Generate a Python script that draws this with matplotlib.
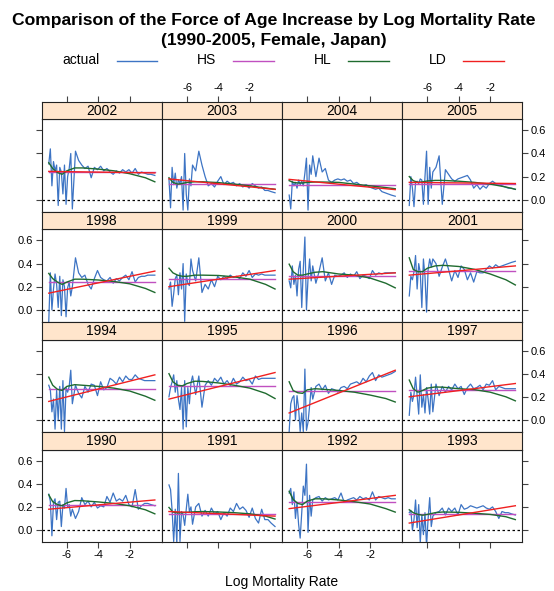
import matplotlib
matplotlib.use("Agg")
import matplotlib.pyplot as plt
from matplotlib.lines import Line2D

plt.rcParams['font.family'] = ['Liberation Sans', 'DejaVu Sans']

# ---- data -------------------------------------------------------------
# log mortality rate at each age (shared abscissa)
log_mx = [-7.15, -7.05, -6.95, -6.85, -6.75, -6.65, -6.55, -6.45,
          -6.35, -6.25, -6.15, -6.05, -5.95, -5.85, -5.75, -5.65,
          -5.45, -5.25, -5.05, -4.85, -4.65, -4.45, -4.25, -4.05, -3.85,
          -3.65, -3.45, -3.25, -3.05, -2.85, -2.65, -2.45, -2.25, -2.05,
          -1.85, -1.65, -1.45, -1.25, -1.05, -0.85, -0.65, -0.40]

# observed force of age increase
actual_1990 = [0.31, 0.25, -0.05, 0.24, 0.27, 0.09, 0.24, 0.25, 0.03, 0.22, 0.19, 0.36, 0.20, 0.22, 0.12, 0.18,
               0.10, 0.16, 0.28, 0.22, 0.25, 0.20, 0.24, 0.19, 0.21, 0.20, 0.29, 0.24, 0.32, 0.25, 0.27, 0.25, 0.30,
               0.22, 0.20, 0.35, 0.18, 0.21, 0.23, 0.23, 0.22, 0.21]
actual_1991 = [0.39, 0.35, 0.17, -0.10, 0.18, -0.12, 0.49, -0.10, 0.16, 0.13, 0.04, 0.18, 0.31, 0.16, 0.20, 0.05,
               0.20, 0.23, 0.12, 0.17, 0.12, 0.19, 0.14, 0.16, 0.09, 0.15, 0.12, 0.19, 0.16, 0.23, 0.18, 0.20, 0.17,
               0.11, 0.19, 0.10, 0.06, 0.18, 0.09, 0.09, 0.06, 0.03]
actual_1992 = [0.32, 0.36, 0.22, 0.33, 0.10, 0.24, 0.05, -0.07, 0.15, 0.38, 0.30, 0.57, -0.02, 0.30, 0.12, 0.26,
               0.28, 0.29, 0.25, 0.28, 0.26, 0.27, 0.28, 0.26, 0.32, 0.24, 0.26, 0.27, 0.28, 0.26, 0.29, 0.27, 0.28,
               0.26, 0.33, 0.26, 0.29, 0.28, 0.27, 0.28, 0.27, 0.27]
actual_1993 = [0.15, 0.17, 0.00, 0.09, 0.26, 0.02, 0.22, -0.11, 0.13, -0.04, 0.15, -0.14, 0.10, 0.28, 0.03, 0.12,
               0.15, 0.16, 0.19, 0.13, 0.19, 0.16, 0.19, 0.13, 0.22, 0.18, 0.19, 0.21, 0.20, 0.19, 0.20, 0.21, 0.19,
               0.18, 0.20, 0.16, 0.10, 0.16, 0.15, 0.15, 0.14, 0.13]
actual_1994 = [0.30, 0.26, 0.07, 0.18, -0.08, 0.26, 0.00, 0.29, -0.08, 0.34, -0.10, 0.28, 0.24, 0.29, 0.43, 0.14,
               0.30, 0.23, 0.19, 0.29, 0.24, 0.31, 0.30, 0.21, 0.33, 0.26, 0.28, 0.36, 0.34, 0.31, 0.37, 0.33, 0.38,
               0.35, 0.35, 0.39, 0.36, 0.35, 0.34, 0.34, 0.34, 0.34]
actual_1995 = [0.20, 0.28, 0.33, 0.39, 0.24, 0.34, 0.18, 0.09, 0.28, -0.08, 0.34, -0.06, 0.28, 0.14, 0.32, 0.38,
               0.22, 0.38, 0.11, 0.30, 0.34, 0.30, 0.36, 0.33, 0.37, 0.31, 0.34, 0.30, 0.36, 0.31, 0.33, 0.37, 0.34,
               0.35, 0.31, 0.38, 0.35, 0.36, 0.36, 0.36, 0.36, 0.36]
actual_1996 = [-0.10, 0.14, 0.19, 0.21, 0.00, 0.21, 0.10, -0.10, 0.06, -0.10, 0.44, -0.09, -0.02, 0.12, 0.28, 0.18,
               0.29, 0.31, 0.26, 0.30, 0.23, 0.27, 0.26, 0.24, 0.28, 0.29, 0.27, 0.31, 0.32, 0.33, 0.31, 0.36, 0.33,
               0.38, 0.41, 0.34, 0.39, 0.37, 0.38, 0.39, 0.40, 0.42]
actual_1997 = [0.04, 0.24, 0.16, 0.22, 0.37, 0.21, 0.05, 0.39, 0.11, 0.22, 0.06, 0.28, 0.18, 0.05, 0.31, 0.07,
               0.31, 0.21, 0.29, 0.24, 0.29, 0.26, 0.31, 0.27, 0.29, 0.22, 0.28, 0.31, 0.27, 0.28, 0.30, 0.26, 0.31,
               0.30, 0.34, 0.26, 0.29, 0.28, 0.27, 0.27, 0.27, 0.27]
actual_1998 = [-0.10, 0.32, 0.00, 0.18, 0.31, 0.22, 0.02, 0.29, -0.05, 0.26, 0.20, -0.06, 0.19, 0.24, 0.12, 0.20,
               0.45, 0.32, 0.28, 0.30, 0.22, 0.18, 0.27, 0.34, 0.28, 0.26, 0.25, 0.28, 0.23, 0.27, 0.25, 0.28, 0.30,
               0.26, 0.33, 0.24, 0.28, 0.29, 0.29, 0.30, 0.30, 0.30]
actual_1999 = [0.18, 0.24, 0.03, 0.14, 0.27, 0.30, 0.13, 0.32, 0.18, 0.40, -0.10, 0.31, 0.23, 0.21, 0.44, 0.34,
               0.25, 0.45, 0.15, 0.22, 0.18, 0.26, 0.20, 0.29, 0.26, 0.29, 0.27, 0.30, 0.28, 0.29, 0.27, 0.32, 0.29,
               0.34, 0.28, 0.31, 0.30, 0.31, 0.30, 0.30, 0.30, 0.30]
actual_2000 = [0.25, 0.19, 0.38, 0.22, 0.30, 0.12, 0.35, 0.42, 0.02, 0.35, 0.63, 0.00, 0.27, 0.44, 0.25, 0.38,
               0.23, 0.33, 0.45, 0.25, 0.32, 0.22, 0.30, 0.29, 0.30, 0.32, 0.28, 0.31, 0.29, 0.33, 0.27, 0.30, 0.29,
               0.27, 0.34, 0.30, 0.32, 0.31, 0.32, 0.32, 0.32, 0.32]
actual_2001 = [0.12, 0.29, 0.26, 0.33, 0.47, 0.18, 0.40, 0.32, 0.02, 0.44, 0.29, -0.02, 0.35, 0.44, 0.37, 0.44,
               0.40, 0.29, 0.37, 0.44, 0.35, 0.25, 0.34, 0.28, 0.38, 0.35, 0.26, 0.32, 0.24, 0.33, 0.32, 0.32, 0.35,
               0.38, 0.36, 0.39, 0.37, 0.38, 0.39, 0.40, 0.41, 0.42]
actual_2002 = [0.31, 0.44, 0.12, 0.33, 0.25, 0.30, -0.05, 0.28, 0.24, 0.05, 0.30, -0.04, 0.20, 0.27, 0.40, -0.08,
               0.42, 0.34, 0.30, 0.27, 0.29, 0.19, 0.28, 0.26, 0.29, 0.25, 0.27, 0.24, 0.22, 0.25, 0.23, 0.26, 0.24,
               0.26, 0.23, 0.27, 0.22, 0.24, 0.23, 0.22, 0.22, 0.21]
actual_2003 = [0.18, -0.07, 0.28, 0.13, 0.23, 0.10, 0.17, 0.14, 0.20, -0.09, 0.40, 0.05, -0.09, 0.18, 0.12, 0.30,
               0.25, 0.42, 0.30, 0.20, 0.12, 0.14, 0.11, 0.16, 0.20, 0.13, 0.16, 0.14, 0.15, 0.12, 0.14, 0.11, 0.13,
               0.10, 0.14, 0.12, 0.10, 0.11, 0.08, 0.08, 0.07, 0.06]
actual_2004 = [0.04, -0.08, 0.16, 0.12, 0.15, 0.10, 0.17, 0.13, 0.16, 0.12, 0.23, 0.36, -0.09, 0.30, 0.22, 0.38,
               0.20, 0.36, 0.24, 0.27, 0.17, 0.15, 0.17, 0.18, 0.17, 0.18, 0.16, 0.17, 0.14, 0.15, 0.13, 0.12, 0.13,
               0.11, 0.10, 0.09, 0.10, 0.07, 0.06, 0.05, 0.04, 0.03]
actual_2005 = [-0.05, 0.20, 0.10, -0.06, 0.15, 0.16, 0.14, 0.18, 0.17, -0.04, 0.20, 0.42, -0.04, 0.28, 0.10, 0.24,
               0.28, 0.38, -0.04, 0.26, 0.22, 0.18, 0.16, 0.18, 0.19, 0.20, 0.21, 0.17, 0.10, 0.13, 0.09, 0.12, 0.10,
               0.14, 0.16, 0.14, 0.13, 0.12, 0.11, 0.10, 0.10, 0.09]

# HL model curve, evaluated on a coarse grid
hl_x = [-7.15, -6.9, -6.6, -6.3, -6.0, -5.5, -5.0, -4.0, -3.0, -2.0, -1.0, -0.4]
hl_1990 = [0.305, 0.245, 0.22, 0.21, 0.235, 0.255, 0.253, 0.243, 0.23, 0.21, 0.175, 0.14]
hl_1991 = [0.195, 0.155, 0.148, 0.15, 0.153, 0.158, 0.16, 0.156, 0.15, 0.14, 0.12, 0.095]
hl_1992 = [0.335, 0.265, 0.23, 0.22, 0.25, 0.27, 0.27, 0.26, 0.245, 0.225, 0.185, 0.155]
hl_1993 = [0.175, 0.15, 0.135, 0.128, 0.135, 0.15, 0.156, 0.153, 0.145, 0.135, 0.115, 0.09]
hl_1994 = [0.37, 0.30, 0.265, 0.255, 0.29, 0.305, 0.30, 0.29, 0.275, 0.25, 0.205, 0.17]
hl_1995 = [0.40, 0.33, 0.30, 0.295, 0.315, 0.335, 0.333, 0.32, 0.30, 0.275, 0.23, 0.185]
hl_1996 = [0.33, 0.255, 0.235, 0.23, 0.26, 0.27, 0.265, 0.255, 0.24, 0.215, 0.185, 0.155]
hl_1997 = [0.345, 0.27, 0.24, 0.255, 0.275, 0.285, 0.283, 0.27, 0.262, 0.24, 0.20, 0.165]
hl_1998 = [0.315, 0.27, 0.24, 0.22, 0.24, 0.265, 0.265, 0.258, 0.245, 0.225, 0.185, 0.15]
hl_1999 = [0.36, 0.32, 0.30, 0.29, 0.29, 0.30, 0.30, 0.297, 0.285, 0.265, 0.22, 0.18]
hl_2000 = [0.395, 0.33, 0.30, 0.30, 0.31, 0.325, 0.33, 0.31, 0.30, 0.275, 0.23, 0.19]
hl_2001 = [0.45, 0.35, 0.33, 0.33, 0.36, 0.38, 0.385, 0.375, 0.35, 0.31, 0.26, 0.215]
hl_2002 = [0.32, 0.27, 0.235, 0.22, 0.25, 0.275, 0.275, 0.265, 0.25, 0.225, 0.19, 0.155]
hl_2003 = [0.19, 0.15, 0.135, 0.14, 0.15, 0.155, 0.155, 0.148, 0.135, 0.12, 0.10, 0.09]
hl_2004 = [0.165, 0.15, 0.145, 0.145, 0.15, 0.153, 0.153, 0.15, 0.135, 0.12, 0.105, 0.095]
hl_2005 = [0.20, 0.165, 0.15, 0.155, 0.162, 0.167, 0.167, 0.16, 0.15, 0.135, 0.11, 0.09]

years = [1990, 1991, 1992, 1993, 1994, 1995, 1996, 1997,
         1998, 1999, 2000, 2001, 2002, 2003, 2004, 2005]
# HS: constant level; LD: straight line from first to last age
hs_level = [0.22, 0.142, 0.242, 0.14, 0.27, 0.29, 0.248, 0.257,
            0.24, 0.27, 0.289, 0.338, 0.24, 0.136, 0.127, 0.137]
ld_start = [0.18, 0.16, 0.185, 0.06, 0.16, 0.18, 0.06, 0.20,
            0.144, 0.20, 0.265, 0.30, 0.245, 0.18, 0.176, 0.15]
ld_end = [0.26, 0.12, 0.30, 0.21, 0.39, 0.41, 0.43, 0.315,
          0.335, 0.34, 0.32, 0.38, 0.232, 0.09, 0.087, 0.14]

panel_rows = [[2002, 2003, 2004, 2005],
              [1998, 1999, 2000, 2001],
              [1994, 1995, 1996, 1997],
              [1990, 1991, 1992, 1993]]

x_ticks = [-6, -4, -2]
y_ticks = [0.0, 0.2, 0.4, 0.6]
y_tick_labels = ["0.0", "0.2", "0.4", "0.6"]

series_names = ["actual", "HS", "HL", "LD"]
series_colors = ["#3d74c4", "#c050c0", "#1f6b2f", "#f02020"]

actual_by_year = {1990: actual_1990, 1991: actual_1991, 1992: actual_1992, 1993: actual_1993,
                  1994: actual_1994, 1995: actual_1995, 1996: actual_1996, 1997: actual_1997,
                  1998: actual_1998, 1999: actual_1999, 2000: actual_2000, 2001: actual_2001,
                  2002: actual_2002, 2003: actual_2003, 2004: actual_2004, 2005: actual_2005}
hl_by_year = {1990: hl_1990, 1991: hl_1991, 1992: hl_1992, 1993: hl_1993,
              1994: hl_1994, 1995: hl_1995, 1996: hl_1996, 1997: hl_1997,
              1998: hl_1998, 1999: hl_1999, 2000: hl_2000, 2001: hl_2001,
              2002: hl_2002, 2003: hl_2003, 2004: hl_2004, 2005: hl_2005}

# ---- layout (pixels) --------------------------------------------------
W, H = 554, 591
fig = plt.figure(figsize=(W / 100, H / 100), dpi=100)
fig.patch.set_facecolor("white")

col_left = [41.7, 161.9, 282.1, 402.2]
col_w = 120.2
strip_bottom = [119.3, 229.4, 339.5, 449.6]
strip_h = 17.6
panel_h = 92.3
XLIM = (-7.6, 0.05)
YLIM = (-0.103, 0.696)

TICK_LEN = 4.0
TICK_COL = "#444444"
FRAME_COL = "#222222"
TICK_FS = 8


def rect(x, y_top, w, h):
    return [x / W, 1 - (y_top + h) / H, w / W, h / H]


def frame(ax):
    for s in ax.spines.values():
        s.set_color(FRAME_COL)
        s.set_linewidth(0.8)


nrows = len(panel_rows)
for r, row in enumerate(panel_rows):
    for c, yr in enumerate(row):
        i = years.index(yr)
        sb = strip_bottom[r]
        ax = fig.add_axes(rect(col_left[c], sb, col_w, panel_h))
        ax.set_xlim(*XLIM)
        ax.set_ylim(*YLIM)
        frame(ax)

        ax.axhline(0, color="black", lw=0.9, ls=(0, (2, 2)), zorder=1)
        ax.plot(log_mx, actual_by_year[yr], color=series_colors[0], lw=0.9, zorder=2)
        ax.plot([log_mx[0], log_mx[-1]], [hs_level[i], hs_level[i]],
                color=series_colors[1], lw=1.0, zorder=3)
        ax.plot(hl_x, hl_by_year[yr], color=series_colors[2], lw=1.0, zorder=4)
        ax.plot([log_mx[0], log_mx[-1]], [ld_start[i], ld_end[i]],
                color=series_colors[3], lw=1.0, zorder=5)

        # axis ticks only on the outer edges of the lattice
        ax.set_xticks(x_ticks)
        ax.set_xticklabels([str(v) for v in x_ticks])
        ax.set_yticks(y_ticks)
        ax.set_yticklabels(y_tick_labels)
        is_bottom = r == nrows - 1
        is_left = c == 0
        is_right = c == len(row) - 1
        ax.tick_params(axis="x", direction="out", length=TICK_LEN, width=0.8,
                       color=TICK_COL, labelsize=TICK_FS, pad=2,
                       bottom=is_bottom, top=False,
                       labelbottom=is_bottom and c % 2 == 0, labeltop=False)
        ax.tick_params(axis="y", direction="out", length=TICK_LEN, width=0.8,
                       color=TICK_COL, labelsize=TICK_FS, pad=2,
                       left=is_left, right=is_right,
                       labelleft=is_left and r % 2 == 1,
                       labelright=is_right and r % 2 == 0)

        # strip with the year
        sax = fig.add_axes(rect(col_left[c], sb - strip_h, col_w, strip_h))
        sax.set_facecolor("#ffe5cc")
        sax.set_xlim(*XLIM)
        sax.set_ylim(0, 1)
        frame(sax)
        sax.set_yticks([])
        sax.text(0.5, 0.47, str(yr), transform=sax.transAxes,
                 ha="center", va="center", fontsize=10)
        if r == 0:
            sax.set_xticks(x_ticks)
            sax.set_xticklabels([str(v) for v in x_ticks])
            sax.tick_params(axis="x", direction="out", length=TICK_LEN, width=0.8,
                            color=TICK_COL, labelsize=TICK_FS, pad=2,
                            bottom=False, top=True, labelbottom=False,
                            labeltop=(c % 2 == 1))
        else:
            sax.set_xticks([])

# ---- titles, legend, axis label --------------------------------------
fig.text(274 / W, 1 - 20.5 / H, "Comparison of the Force of Age Increase by Log Mortality Rate",
         ha="center", va="center", fontsize=12.6, fontweight="bold")
fig.text(274 / W, 1 - 40.5 / H, "(1990-2005, Female, Japan)",
         ha="center", va="center", fontsize=12.6, fontweight="bold")

legend_text_x = [81, 206, 323, 438]
legend_line_x = [(117, 157), (233, 274), (348, 389), (463, 504)]
ly = 1 - 60.5 / H
for name, col, tx, (l0, l1) in zip(series_names, series_colors, legend_text_x, legend_line_x):
    fig.text(tx / W, ly, name, ha="center", va="center", fontsize=10)
    fig.add_artist(Line2D([l0 / W, l1 / W], [ly, ly], color=col, lw=1.0,
                          transform=fig.transFigure))

fig.text(282 / W, 1 - 582 / H, "Log Mortality Rate", ha="center", va="center", fontsize=10)

fig.savefig("out.png", dpi=100, facecolor="white")
